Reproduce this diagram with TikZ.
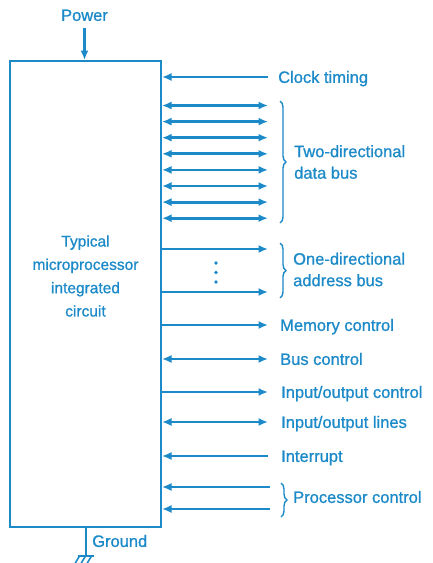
\documentclass[tikz,border=0pt]{standalone}
\usepackage{fontspec}
\setmainfont{Liberation Sans}[FakeBold=0.9]
\usepackage{tikz}
\usetikzlibrary{arrows.meta, positioning, decorations.pathreplacing}
\definecolor{chipblue}{RGB}{28,138,200}
\tikzstyle{chipbox} = [rectangle, draw=chipblue, line width=2pt, minimum width=151pt, minimum height=466pt, inner sep=0pt]
\tikzstyle{chiptext} = [text=chipblue, align=center, font=\fontsize{15.5}{23.3}\selectfont]
\tikzstyle{sigtext} = [anchor=west, inner sep=0pt, text=chipblue, text height=11.8pt, text depth=0pt, font=\fontsize{16.5}{21.5}\selectfont]
\tikzstyle{bustext} = [anchor=west, inner sep=0pt, text=chipblue, align=left, font=\fontsize{16.5}{21.5}\selectfont]
\tikzstyle{inline} = [line width=2.8pt, draw=chipblue, {Latex[length=9.5pt,width=8pt]}-]
\tikzstyle{outline} = [line width=2.8pt, draw=chipblue, -{Latex[length=9.5pt,width=8pt]}]
\tikzstyle{biline} = [line width=2.8pt, draw=chipblue, {Latex[length=9.5pt,width=8pt]}-{Latex[length=9.5pt,width=8pt]}]
\tikzstyle{busbrace} = [draw=chipblue, line width=1.4pt, decorate, decoration={brace, amplitude=6pt}]
\begin{document}
\begin{tikzpicture}[x=1pt, y=-1pt]
        \useasboundingbox [fill=white] (0,0) rectangle (432,563);
        % Chip
        \node (chip) [chipbox] at (85.5,294) {};
        \node (chiplabel) [chiptext] at (85.5,276) {Typical\\microprocessor\\integrated\\circuit};
        
        % Power and ground
        \node (power) [sigtext, anchor=center] at (84.5,15) {Power};
        \draw [outline] (power.south) ++(0,7) -- (power.south |- chip.north);
        \draw [draw=chipblue, line width=2pt] (chip.south) -- ++(0,28) coordinate (gnd);
        \draw [draw=chipblue, line width=1.6pt] ([xshift=-8pt]gnd) -- ([xshift=8pt]gnd);
        \foreach \dx in {-6,0,6}
            \draw [draw=chipblue, line width=1.6pt] ([xshift=\dx pt]gnd) -- ++(-6,10);
        \node (ground) [sigtext] at (92,541) {Ground};
        
        % Line ends
        \coordinate (clk) at (268,77);
        \foreach \i in {1,...,8}
            \coordinate (d\i) at (268,{105.5+16.1*(\i-1)});
        \coordinate (a1) at (268,249);
        \coordinate (a2) at (268,292);
        \coordinate (mem) at (268,325);
        \coordinate (bus) at (268,359);
        \coordinate (ioc) at (268,392);
        \coordinate (iol) at (268,422);
        \coordinate (irq) at (268,456);
        \coordinate (p1) at (270,487);
        \coordinate (p2) at (270,509);
        
        % Labels
        \node (clklabel) [sigtext] at (278,77) {Clock timing};
        \node (datalabel) [bustext] at (294,162) {Two-directional\\data bus};
        \node (addrlabel) [bustext] at (293,269.5) {One-directional\\address bus};
        \node (memlabel) [sigtext] at (280,325) {Memory control};
        \node (buslabel) [sigtext] at (280,359) {Bus control};
        \node (ioclabel) [sigtext] at (281,392) {Input/output control};
        \node (iollabel) [sigtext] at (281,422) {Input/output lines};
        \node (irqlabel) [sigtext] at (281,456) {Interrupt};
        \node (proclabel) [sigtext] at (293,497) {Processor control};
        
        % Connections
        \draw [inline] (chip.east |- clk) -- (clk);
        \foreach \i in {1,...,8}
            \draw [biline] (chip.east |- d\i) -- (d\i);
        \draw [outline] (chip.east |- a1) -- (a1);
        \draw [outline] (chip.east |- a2) -- (a2);
        \foreach \y in {263,272.5,282}
            \fill [chipblue] (216,\y) circle (1.8pt);
        \draw [outline] (chip.east |- mem) -- (mem);
        \draw [biline] (chip.east |- bus) -- (bus);
        \draw [outline] (chip.east |- ioc) -- (ioc);
        \draw [biline] (chip.east |- iol) -- (iol);
        \draw [inline] (chip.east |- irq) -- (irq);
        \draw [inline] (chip.east |- p1) -- (p1);
        \draw [inline] (chip.east |- p2) -- (p2);
        
        % Braces
        \draw [busbrace] (280,101) -- (280,223);
        \draw [busbrace] (280,243) -- (280,298);
        \draw [busbrace] (281,483) -- (281,517);
    \end{tikzpicture}
\end{document}
